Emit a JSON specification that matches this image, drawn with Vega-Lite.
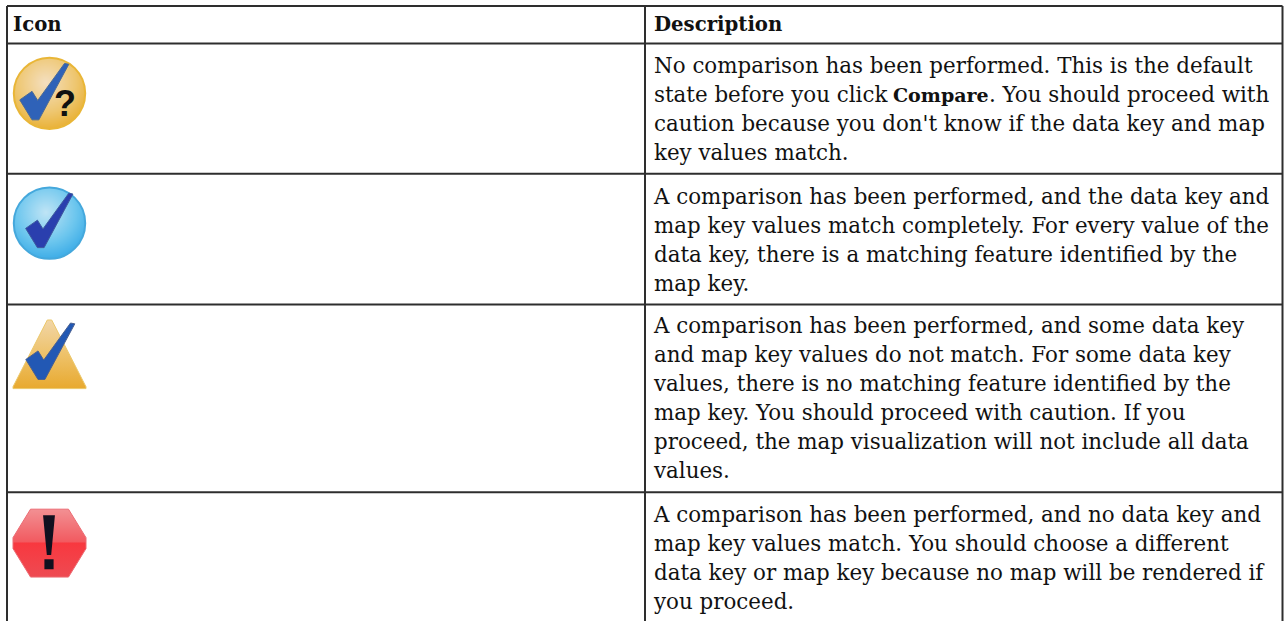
{"$schema":"https://vega.github.io/schema/vega-lite/v6.json","autosize":{"type":"fit","contains":"padding"},"padding":0,"width":1284,"height":622,"background":"white","view":{"stroke":null},
"datasets":{
"rules":[{"x":7,"x2":1282.5,"y":6,"y2":6},{"x":7,"x2":1282.5,"y":43.5,"y2":43.5},{"x":7,"x2":1282.5,"y":174,"y2":174},{"x":7,"x2":1282.5,"y":305,"y2":305},{"x":7,"x2":1282.5,"y":493,"y2":493},{"x":7,"x2":7,"y":6,"y2":622},{"x":645,"x2":645,"y":6,"y2":622},{"x":1282.5,"x2":1282.5,"y":6,"y2":622}],
"text":[
{"x":13,"y":31,"t":"Icon","b":"head"},{"x":654,"y":31,"t":"Description","b":"head"},
{"x":654,"y":73,"t":"No comparison has been performed. This is the default","b":"normal"},
{"x":654,"y":102,"t":"state before you click","b":"normal"},{"x":893,"y":102,"t":"Compare","b":"inline"},{"x":989,"y":102,"t":". You should proceed with","b":"normal"},
{"x":654,"y":131,"t":"caution because you don't know if the data key and map","b":"normal"},
{"x":654,"y":160,"t":"key values match.","b":"normal"},
{"x":654,"y":204,"t":"A comparison has been performed, and the data key and","b":"normal"},
{"x":654,"y":233,"t":"map key values match completely. For every value of the","b":"normal"},
{"x":654,"y":262,"t":"data key, there is a matching feature identified by the","b":"normal"},
{"x":654,"y":291,"t":"map key.","b":"normal"},
{"x":654,"y":334,"t":"A comparison has been performed, and some data key","b":"normal"},
{"x":654,"y":363,"t":"and map key values do not match. For some data key","b":"normal"},
{"x":654,"y":392,"t":"values, there is no matching feature identified by the","b":"normal"},
{"x":654,"y":421,"t":"map key. You should proceed with caution. If you","b":"normal"},
{"x":654,"y":450,"t":"proceed, the map visualization will not include all data","b":"normal"},
{"x":654,"y":479,"t":"values.","b":"normal"},
{"x":654,"y":523,"t":"A comparison has been performed, and no data key and","b":"normal"},
{"x":654,"y":552,"t":"map key values match. You should choose a different","b":"normal"},
{"x":654,"y":581,"t":"data key or map key because no map will be rendered if","b":"normal"},
{"x":654,"y":610,"t":"you proceed.","b":"normal"}
],
"icons":[{"k":"q","x":49.5,"y":93.5},{"k":"ok","x":49.5,"y":223.5},{"k":"warn","x":49.5,"y":354.5},{"k":"err","x":49.5,"y":544}],
"checks":[{"k":"q","x":44,"y":91.5},{"k":"ok","x":49,"y":220.5},{"k":"warn","x":50,"y":351.5}]
},
"layer":[
{"data":{"name":"icons"},"transform":[{"filter":"datum.k=='q'"}],"mark":{"type":"point","filled":true,"shape":"circle","size":5100,"opacity":1,"fill":{"gradient":"radial","x1":0.45,"y1":0.35,"r1":0,"x2":0.45,"y2":0.35,"r2":0.7,"stops":[{"offset":0,"color":"#f4dfc0"},{"offset":0.6,"color":"#eec66f"},{"offset":1,"color":"#e8ad2c"}]},"stroke":"#e9b637","strokeWidth":2},"encoding":{"x":{"field":"x","type":"quantitative","scale":{"domain":[0,1284],"nice":false,"zero":false},"axis":null},"y":{"field":"y","type":"quantitative","scale":{"domain":[622,0],"nice":false,"zero":false},"axis":null}}},
{"data":{"name":"icons"},"transform":[{"filter":"datum.k=='ok'"}],"mark":{"type":"point","filled":true,"shape":"circle","size":5100,"opacity":1,"fill":{"gradient":"radial","x1":0.45,"y1":0.35,"r1":0,"x2":0.45,"y2":0.35,"r2":0.7,"stops":[{"offset":0,"color":"#bfe4f5"},{"offset":0.6,"color":"#6cc6ee"},{"offset":1,"color":"#35a8e6"}]},"stroke":"#45a8dc","strokeWidth":2},"encoding":{"x":{"field":"x","type":"quantitative"},"y":{"field":"y","type":"quantitative"}}},
{"data":{"name":"icons"},"transform":[{"filter":"datum.k=='warn'"}],"mark":{"type":"point","filled":true,"size":5329,"opacity":1,"shape":"M-0.06 -0.93 L0.06 -0.93 L1 0.9 L1 0.95 L-1 0.95 L-1 0.9 Z","fill":{"x1":0,"y1":0,"x2":0,"y2":1,"gradient":"linear","stops":[{"offset":0,"color":"#f1d6a8"},{"offset":0.5,"color":"#eec26a"},{"offset":1,"color":"#e8a92f"}]},"stroke":"#ecc86a","strokeWidth":1},"encoding":{"x":{"field":"x","type":"quantitative"},"y":{"field":"y","type":"quantitative"}}},
{"data":{"name":"icons"},"transform":[{"filter":"datum.k=='err'"}],"mark":{"type":"point","filled":true,"size":5329,"opacity":1,"shape":"M-0.52 -0.93 L0.52 -0.93 L1 -0.15 L1 0.15 L0.52 0.93 L-0.52 0.93 L-1 0.15 L-1 -0.15 Z","fill":{"x1":0,"y1":0,"x2":0,"y2":1,"gradient":"linear","stops":[{"offset":0,"color":"#f29093"},{"offset":0.48,"color":"#f25a60"},{"offset":0.5,"color":"#f8383f"},{"offset":1,"color":"#ee4a52"}]},"stroke":"#ec6a72","strokeWidth":1},"encoding":{"x":{"field":"x","type":"quantitative"},"y":{"field":"y","type":"quantitative"}}},
{"data":{"name":"checks"},"transform":[{"filter":"datum.k=='q'"}],"mark":{"type":"point","filled":true,"size":3249,"opacity":1,"fill":"#2f62b8","stroke":"#4a6a96","strokeWidth":1,"shape":"M-0.85 0.3 L-0.42 0 L-0.22 0.32 L0.72 -0.98 L0.87 -0.95 L-0.18 1 L-0.42 1 Z"},"encoding":{"x":{"field":"x","type":"quantitative"},"y":{"field":"y","type":"quantitative"}}},
{"data":{"name":"checks"},"transform":[{"filter":"datum.k=='ok'"}],"mark":{"type":"point","filled":true,"size":3025,"opacity":1,"fill":"#2a3fae","stroke":"#3f5a9e","strokeWidth":1,"shape":"M-0.85 0.3 L-0.42 0 L-0.22 0.32 L0.72 -0.98 L0.87 -0.95 L-0.18 1 L-0.42 1 Z"},"encoding":{"x":{"field":"x","type":"quantitative"},"y":{"field":"y","type":"quantitative"}}},
{"data":{"name":"checks"},"transform":[{"filter":"datum.k=='warn'"}],"mark":{"type":"point","filled":true,"size":3249,"opacity":1,"fill":"#2258b4","stroke":"#4a6090","strokeWidth":1,"shape":"M-0.85 0.3 L-0.42 0 L-0.22 0.32 L0.72 -0.98 L0.87 -0.95 L-0.18 1 L-0.42 1 Z"},"encoding":{"x":{"field":"x","type":"quantitative"},"y":{"field":"y","type":"quantitative"}}},
{"data":{"values":[{"x":49,"y":543}]},"mark":{"type":"point","filled":true,"size":2916,"opacity":1,"fill":"#10101f","shape":"M-0.22 -1 L0.22 -1 L0.08 0.48 L-0.08 0.48 Z M-0.17 0.63 L0.17 0.63 L0.17 1 L-0.17 1 Z"},"encoding":{"x":{"field":"x","type":"quantitative"},"y":{"field":"y","type":"quantitative"}}},
{"data":{"name":"rules"},"mark":{"type":"rule","stroke":"#2e2e2e","strokeWidth":2},"encoding":{"x":{"field":"x","type":"quantitative"},"x2":{"field":"x2"},"y":{"field":"y","type":"quantitative"},"y2":{"field":"y2"}}},
{"data":{"name":"text"},"transform":[{"filter":"datum.b=='normal'"}],"mark":{"type":"text","align":"left","baseline":"alphabetic","font":"DejaVu Serif","fontSize":21.4,"fill":"#111111"},"encoding":{"x":{"field":"x","type":"quantitative"},"y":{"field":"y","type":"quantitative"},"text":{"field":"t"}}},
{"data":{"name":"text"},"transform":[{"filter":"datum.b=='head'"}],"mark":{"type":"text","align":"left","baseline":"alphabetic","font":"DejaVu Serif","fontWeight":"bold","fontSize":19.7,"fill":"#111111"},"encoding":{"x":{"field":"x","type":"quantitative"},"y":{"field":"y","type":"quantitative"},"text":{"field":"t"}}},
{"data":{"name":"text"},"transform":[{"filter":"datum.b=='inline'"}],"mark":{"type":"text","align":"left","baseline":"alphabetic","font":"DejaVu Serif","fontWeight":"bold","fontSize":19,"fill":"#111111"},"encoding":{"x":{"field":"x","type":"quantitative"},"y":{"field":"y","type":"quantitative"},"text":{"field":"t"}}},
{"data":{"values":[{"x":65,"y":116,"t":"?"}]},"mark":{"type":"text","align":"center","baseline":"alphabetic","font":"Liberation Sans","fontWeight":"bold","fontSize":36,"fill":"#111111"},"encoding":{"x":{"field":"x","type":"quantitative"},"y":{"field":"y","type":"quantitative"},"text":{"field":"t"}}}
]}
